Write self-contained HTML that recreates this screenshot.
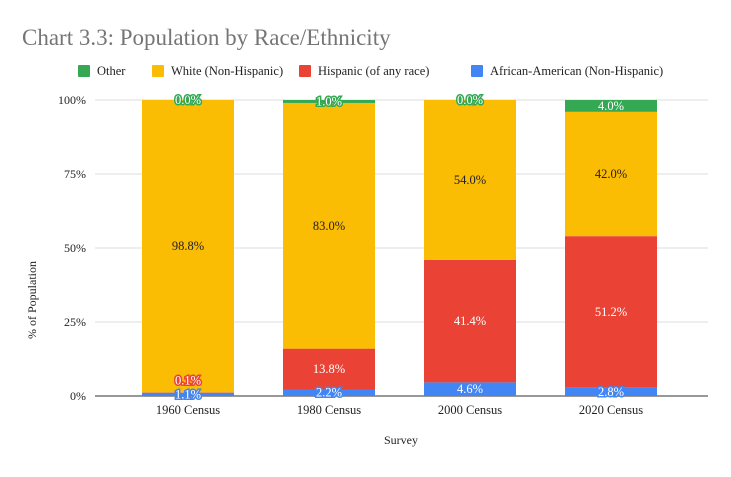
<!DOCTYPE html>
<html><head><meta charset="utf-8"><style>
body{margin:0;background:#fff;}
svg text{font-family:"Liberation Serif",serif;}
</style></head><body>
<svg width="731" height="472" xmlns="http://www.w3.org/2000/svg">
<rect width="731" height="472" fill="#fff"/>
<text x="22" y="45" font-size="23" fill="#757575">Chart 3.3: Population by Race/Ethnicity</text>
<g id="legend"></g>
<g id="grid"></g>
<g id="bars"></g>
<g id="labels"></g>
<text x="36" y="300" font-size="12" fill="#222" transform="rotate(-90 36 300)" text-anchor="middle">% of Population</text>
<text x="401" y="444" font-size="12" fill="#222" text-anchor="middle">Survey</text>
</svg>
<script>
const categories=["1960 Census","1980 Census","2000 Census","2020 Census"];
const seriesNames=["African-American (Non-Hispanic)","Hispanic (of any race)","White (Non-Hispanic)","Other"];
const africanAmerican=[1.1,2.2,4.6,2.8];
const hispanic=[0.1,13.8,41.4,51.2];
const white=[98.8,83.0,54.0,42.0];
const other=[0.0,1.0,0.0,4.0];
const yTicks=[0,25,50,75,100];
const colors=["#4285f4","#ea4335","#fbbc04","#34a853"];
const series=[africanAmerican,hispanic,white,other];
const NS="http://www.w3.org/2000/svg";
const y0=396,y1=100,xL=95,xR=708;
const y=v=>y0-(v/100)*(y0-y1);
const x=i=>188+i*141;
const bw=92;
function mk(t,a,p){const e=document.createElementNS(NS,t);for(const k in a)e.setAttribute(k,a[k]);p.appendChild(e);return e;}
const grid=document.getElementById('grid');
yTicks.forEach(t=>{
 const l=mk('line',{x1:xL,x2:xR,y1:y(t),y2:y(t),stroke:t===0?'#777':'#ddd','stroke-width':t===0?1.5:1},grid);
 
 
 const tx=mk('text',{x:86,y:y(t)+4,'font-size':12,'text-anchor':'end',fill:'#222'},grid);
 tx.textContent=t+'%';
 
 
});
const bars=document.getElementById('bars'),labels=document.getElementById('labels');
categories.forEach((c,i)=>{
 let acc=0;let lastY=1e9;
 series.forEach((s,j)=>{
  const v=s[i];const top=y(acc+v),bot=y(acc);
  const r=mk('rect',{x:x(i)-bw/2,y:top,width:bw,height:Math.max(0,bot-top),fill:colors[j]},bars);
  
  
  const small=(bot-top)<14;
  let ly=(top+bot)/2+4;
  if(ly>lastY-14) ly=lastY-14;
  if(ly<y1+4) ly=y1+4;
  lastY=ly;
  const t=mk('text',{x:x(i),y:ly,'font-size':12.5,'text-anchor':'middle',fill:j===2&&!small?'#222':'#fff'},labels);
  if(small){t.setAttribute('stroke',colors[j]);t.setAttribute('stroke-width','3');t.setAttribute('paint-order','stroke');}
  t.textContent=v.toFixed(1)+'%';
  
  
  acc+=v;
 });
 const ct=mk('text',{x:x(i),y:414,'font-size':12.5,'text-anchor':'middle',fill:'#222'},labels);
 ct.textContent=c;
 
 
});
const lg=document.getElementById('legend');
const legOrder=[3,2,1,0];const legX=[78,152,299,471];
legOrder.forEach((j,k)=>{
 const r=mk('rect',{x:legX[k],y:65,width:12,height:12,fill:colors[j],rx:1},lg);
 
 
 const t=mk('text',{x:legX[k]+19,y:75,'font-size':12.5,fill:'#222'},lg);
 t.textContent=seriesNames[j];
 
 
});
</script>
</body></html>
